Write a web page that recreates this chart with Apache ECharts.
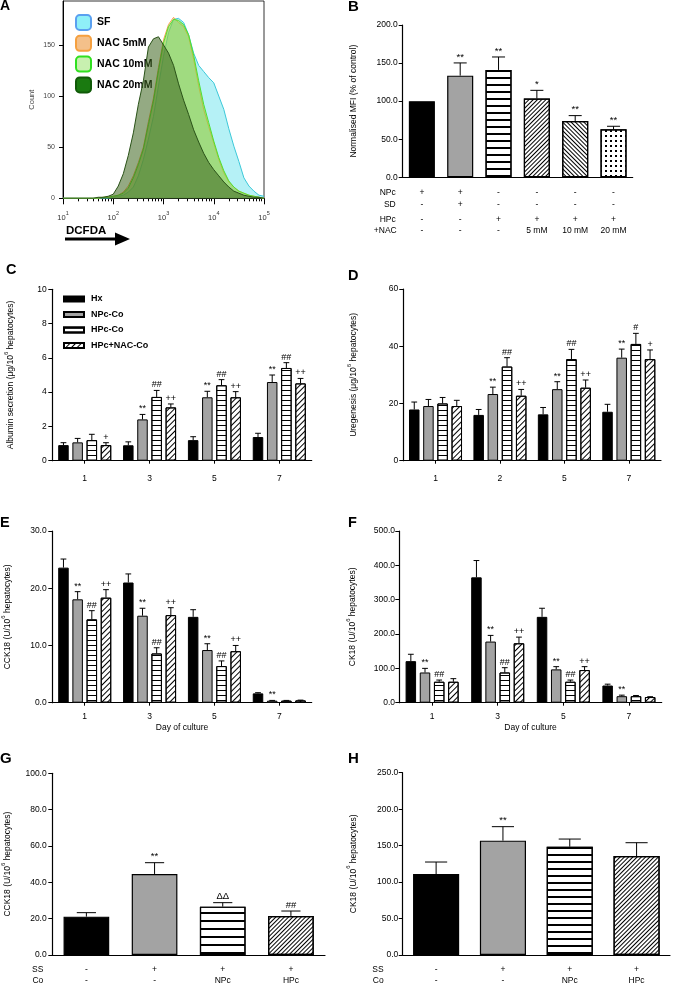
<!DOCTYPE html>
<html><head><meta charset="utf-8">
<script src="https://cdn.jsdelivr.net/npm/echarts@6/dist/echarts.min.js"></script>
<style>html,body{margin:0;padding:0;background:#fff}#c{width:677px;height:985px}</style>
</head><body><div id="c"></div><script>
// ================= DATA =================
// Panel A: flow cytometry histograms, x = log10(DCFDA intensity)
const aLogX  = [1.0,1.1,1.2,1.3,1.4,1.5,1.6,1.7,1.8,1.9,2.0,2.1,2.2,2.3,2.4,2.5,2.6,2.7,2.8,2.9,3.0,3.1,3.2,3.3,3.4,3.5,3.6,3.7,3.8,3.9,4.0,4.1,4.2,4.3,4.4,4.5,4.6,4.7,4.8,4.9,5.0];
const aSF    = [0,0,0,0,0,0,0,0,0,0, 1,2,3,6,11,22,38,58,80,110, 139,162,175,176,172,160,142,130,124,118, 113,100,87,68,51,36,20,12,7,3,2];
const aNAC5  = [0,0,0,0,0,0,0,0,1,1, 2,3,6,12,22,35,50,75,98,128, 155,170,177,172,168,158,136,110,87,70, 54,38,25,16,11,7,5,3,2,1,0];
const aNAC10 = [0,0,0,0,0,0,0,0,1,1, 2,3,5,10,20,33,48,72,95,125, 152,168,175,174,170,160,140,115,92,74, 56,40,27,17,11,7,5,3,2,1,0];
const aNAC20 = [0,0,0,0,0,0,0,1,1,2, 4,12,24,42,64,92,115,148,156,158, 150,142,130,112,96,82,67,55,44,35, 28,22,16,11,7,5,3,2,1,1,0];
const aNames = ['SF','NAC 5mM','NAC 10mM','NAC 20mM'];
const aYTicks = [0,50,100,150];

// Panel B
const bMean = [100, 133.5, 141, 103.5, 74, 63];
const bErr  = [100, 150.2, 158, 114.2, 81, 67];
const bSig  = ['', '**', '**', '*', '**', '**'];
const bRowNPc = ['+','+','-','-','-','-'];
const bRowSD  = ['-','+','-','-','-','-'];
const bRowHPc = ['-','-','+','+','+','+'];
const bRowNAC = ['-','-','-','5 mM','10 mM','20 mM'];

// Grouped panels C–F
const groupNames = ['Hx','NPc-Co','HPc-Co','HPc+NAC-Co'];
const cDays = ['1','3','5','7'];
const cHx  = [0.91,0.90,1.20,1.38], cHxE  = [1.05,1.10,1.40,1.60];
const cNPc = [1.07,2.41,3.70,4.59], cNPcE = [1.30,2.70,4.05,5.00];
const cHPc = [1.20,3.72,4.40,5.41], cHPcE = [1.54,4.10,4.73,5.72];
const cNAC = [0.91,3.11,3.70,4.51], cNACE = [1.05,3.31,4.03,4.80];
const cSig = [['','','',''],['','**','**','**'],['','##','##','##'],['+','++','++','++']];

const dDays = ['1','2','5','7'];
const dHx  = [17.9,16.0,16.2,17.1], dHxE  = [20.5,17.9,18.6,19.7];
const dNPc = [19.1,23.3,25.0,36.0], dNPcE = [21.4,25.7,27.6,39.0];
const dHPc = [20.0,32.9,35.5,40.8], dHPcE = [22.1,36.0,38.9,44.5];
const dNAC = [19.1,22.7,25.5,35.5], dNACE = [21.1,24.9,28.2,38.7];
const dSig = [['','','',''],['','**','**','**'],['','##','##','#'],['','++','++','+']];

const eDays = ['1','3','5','7'];
const eHx  = [23.6,21.0,15.0,1.63], eHxE  = [25.1,22.5,16.25,1.75];
const eNPc = [18.06,15.2,9.2,0.35], eNPcE = [19.4,16.5,10.3,0.4];
const eHPc = [14.56,8.6,6.4,0.35],  eHPcE = [16.08,9.6,7.3,0.4];
const eNAC = [18.35,15.3,9.0,0.4],  eNACE = [19.75,16.6,10.0,0.45];
const eSig = [['','','',''],['**','**','**','**'],['##','##','##',''],['++','++','++','']];

const fDays = ['1','3','5','7'];
const fHx  = [121,365,250,50],   fHxE  = [141,414,275,54];
const fNPc = [88,178,97,19],     fNPcE = [100,196,105,22];
const fHPc = [61,88,61,19],      fHPcE = [66,102,66,21];
const fNAC = [61,173,95,16.5],   fNACE = [70,191,105,17.5];
const fSig = [['','','',''],['**','**','**','**'],['##','##','##',''],['','++','++','']];

// Panel G, H
const gMean = [21.1, 44.6, 26.6, 21.5], gErr = [23.3, 50.8, 28.8, 24.2], gSig = ['', '**', 'ΔΔ', '##'];
const hMean = [111, 156.8, 148.5, 135.7], hErr = [127.5, 176, 159, 154], hSig = ['', '**', '', ''];
const ghRowSS = ['-','+','+','+'];
const ghRowCo = ['-','-','NPc','HPc'];

// ================= STYLE / BUILD =================
const FF = "'Liberation Sans', Arial, Helvetica, sans-serif";
function hLines(gap, th){ return {symbol:'rect', symbolSize:1, color:'#000', dashArrayX:[1,0], dashArrayY:[th||1.1, gap], rotation:0}; }
function diag(gap, rot, th){ return {symbol:'rect', symbolSize:1, color:'#000', dashArrayX:[1,0], dashArrayY:[th||1, gap], rotation:rot}; }
const UP = -Math.PI/4, DOWN = Math.PI/4;

const grids = [
  {left:63, top:1, width:201, height:197.3, show:true, borderColor:'#000', borderWidth:0.8},
  {left:402.7, top:25, width:230, height:152.3},
  {left:52.3, top:289.3, width:259.4, height:171.4},
  {left:403.3, top:289, width:257.7, height:171.7},
  {left:52.3, top:531, width:259.4, height:171.7},
  {left:399.3, top:531, width:262.4, height:171.7},
  {left:52.3, top:773.3, width:272.7, height:181.7},
  {left:402.7, top:772.7, width:267.3, height:182.3}
].map(g => Object.assign({outerBoundsMode:'none', containLabel:false}, g));

const axLine = {show:true, lineStyle:{color:'#000', width:1.2}};
const lbl = (o) => Object.assign({color:'#000', fontSize:8.5, fontFamily:FF}, o||{});
const supRich = {
  t:{fontSize:8.5, fontFamily:FF, color:'#000', lineHeight:12, verticalAlign:'bottom'},
  s:{fontSize:6, fontFamily:FF, color:'#000', lineHeight:12, verticalAlign:'top'}
};
function yAx(grid, min, max, interval, dec, name, nameGap, margin){
  return {gridIndex:grid, type:'value', min, max, interval, axisLine:axLine,
    axisTick:{show:true, length:4, lineStyle:{color:'#000', width:1}},
    splitLine:{show:false},
    axisLabel:lbl({margin:margin, formatter:v => v.toFixed(dec)}),
    name, nameLocation:'middle', nameGap, nameTextStyle:{fontSize:8.5, fontFamily:FF, color:'#000', rich:supRich}};
}
function catAx(grid, data, opts){
  return Object.assign({gridIndex:grid, type:'category', data, position:'bottom', axisLine:axLine,
    axisTick:{show:false}, splitLine:{show:false}, axisLabel:lbl({interval:0})}, opts||{});
}
function tableAx(grid, data, offset, name, nameGap){
  return {gridIndex:grid, type:'category', data, min:0, max:data.length-1, position:'bottom', offset,
    axisLine:{show:false}, axisTick:{show:false}, splitLine:{show:false},
    axisLabel:lbl({margin:0, verticalAlign:'middle', interval:0}),
    name, nameLocation:'start', nameGap,
    nameTextStyle:{fontSize:8.5, fontFamily:FF, color:'#000', align:'right', verticalAlign:'middle'}};
}

function errSeries(xi, yi, vals, errs, sigs, offFn, capFn, fs){
  return {type:'custom', xAxisIndex:xi, yAxisIndex:yi, silent:true, z:5,
    data: vals.map((v,k)=>[k, v, errs[k]]),
    encode:{x:0, y:[1,2]},
    renderItem:(params, api)=>{
      const k=api.value(0), m=api.value(1), e=api.value(2);
      const band=api.size([1,0])[0];
      const p0=api.coord([k,m]), p1=api.coord([k,e]);
      const x=p0[0]+offFn(band), cap=capFn(band);
      const ch=[];
      if (e>m){
        ch.push({type:'line', shape:{x1:x,y1:p0[1],x2:x,y2:p1[1]}, style:{stroke:'#000', lineWidth:1}});
        ch.push({type:'line', shape:{x1:x-cap/2,y1:p1[1],x2:x+cap/2,y2:p1[1]}, style:{stroke:'#000', lineWidth:1}});
      }
      const s=sigs[params.dataIndex];
      if (s) ch.push({type:'text', style:{x:x, y:p1[1]-1, text:s, align:'center', verticalAlign:'bottom', fontSize:fs||9, fontFamily:FF, fill:'#000'}});
      return {type:'group', children:ch};
    }};
}

const series = [];
// ---- Panel A ----
const aLine = ['#3cc8d8','#f5a050','#4fe030','#2a5218'];
const aFill = ['rgba(90,225,235,0.45)','rgba(250,165,80,0.30)','rgba(120,220,60,0.50)','rgba(60,100,30,0.55)'];
[aSF, aNAC5, aNAC10, aNAC20].forEach((arr, i) => {
  series.push({type:'line', name:aNames[i], xAxisIndex:0, yAxisIndex:0, showSymbol:false, silent:true,
    data: aLogX.map((x,k)=>[x, arr[k]]), lineStyle:{color:aLine[i], width:1}, itemStyle:{color:aLine[i]},
    areaStyle:{color:aFill[i], opacity:1}, z:2+i});
});

// ---- Panel B ----
const bStyles = [
  {color:'#000'},
  {color:'#a3a3a3'},
  {color:'#fff', decal:hLines(4.5, 1.2)},
  {color:'#fff', decal:diag(1.9, UP, 1)},
  {color:'#fff', decal:diag(1.9, DOWN, 1)},
  {color:'#fff', decal:{symbol:'rect', symbolSize:1, color:'#000', dashArrayX:[1.2,2.6], dashArrayY:[1.2,2.6], rotation:0}}
];
series.push({type:'bar', name:'B', xAxisIndex:2, yAxisIndex:1, barWidth:'68%',
  data: bMean.map((v,i)=>({value:v, itemStyle:Object.assign({borderColor:'#000', borderWidth:1.2}, bStyles[i])}))});
series.push(errSeries(2, 1, bMean, bErr, bSig, ()=>0, b=>b*0.68*0.5, 9.5));

// ---- Grouped panels ----
const bw = 10.5, step = bw*1.35;
function groupPanel(xi, yi, vals, errs, sigs, dec){
  const colors = ['#000','#a3a3a3','#fff','#fff'];
  const decals = [null, null, dec.h, dec.d];
  for (let i=0;i<4;i++){
    const st = {color:colors[i], borderColor:'#000', borderWidth:1};
    if (decals[i]) st.decal = decals[i];
    series.push({type:'bar', name:groupNames[i], xAxisIndex:xi, yAxisIndex:yi, barWidth:bw, barGap:'35%', data:vals[i], itemStyle:st});
  }
  for (let i=0;i<4;i++){
    const off=(i-1.5)*step;
    series.push(errSeries(xi, yi, vals[i], errs[i], sigs[i], ()=>off, ()=>bw*0.55, 9));
  }
}
const gdec = {h:hLines(3.6, 1), d:diag(2.2, UP, 1)};
groupPanel(7, 2, [cHx,cNPc,cHPc,cNAC], [cHxE,cNPcE,cHPcE,cNACE], cSig, gdec);
groupPanel(8, 3, [dHx,dNPc,dHPc,dNAC], [dHxE,dNPcE,dHPcE,dNACE], dSig, gdec);
groupPanel(9, 4, [eHx,eNPc,eHPc,eNAC], [eHxE,eNPcE,eHPcE,eNACE], eSig, gdec);
groupPanel(10, 5, [fHx,fNPc,fHPc,fNAC], [fHxE,fNPcE,fHPcE,fNACE], fSig, gdec);

// ---- Panel G, H ----
function ghStyles(hg){ return [
  {color:'#000'}, {color:'#a3a3a3'}, {color:'#fff', decal:hLines(hg, 1.2)}, {color:'#fff', decal:diag(1.5, UP, 1)}]; }
const gSt = ghStyles(5.8), hSt = ghStyles(4.8);
series.push({type:'bar', name:'G', xAxisIndex:11, yAxisIndex:6, barWidth:'67%',
  data: gMean.map((v,i)=>({value:v, itemStyle:Object.assign({borderColor:'#000', borderWidth:1.2}, gSt[i])}))});
series.push(errSeries(11, 6, gMean, gErr, gSig, ()=>0, b=>b*0.67*0.42, 9.5));
series.push({type:'bar', name:'H', xAxisIndex:14, yAxisIndex:7, barWidth:'69%',
  data: hMean.map((v,i)=>({value:v, itemStyle:Object.assign({borderColor:'#000', borderWidth:1.2}, hSt[i])}))});
series.push(errSeries(14, 7, hMean, hErr, hSig, ()=>0, b=>b*0.69*0.48, 9.5));

// ---- Axes ----
const aMinor = [];
for (let d=1; d<5; d++) for (let k=2; k<10; k++) aMinor.push(d + Math.log10(k));
const xAxes = [
  {gridIndex:0, type:'value', min:1, max:5, interval:1, position:'bottom', axisLine:{show:true, lineStyle:{color:'#000', width:1}},
   axisTick:{show:true, length:6, lineStyle:{color:'#000'}}, splitLine:{show:false},
   axisLabel:{margin:12, formatter:v=>'{b|10}{s|'+v+'}', rich:{
     b:{fontSize:7.5, fontFamily:FF, color:'#333', lineHeight:12, verticalAlign:'bottom'},
     s:{fontSize:5.5, fontFamily:FF, color:'#333', lineHeight:12, verticalAlign:'top'}}}},
  {gridIndex:0, type:'value', min:1, max:5, position:'bottom', axisLine:{show:false}, splitLine:{show:false},
   axisLabel:{show:false}, axisTick:{show:true, length:3, customValues:aMinor, lineStyle:{color:'#000'}}},
  catAx(1, bRowNPc.map((_,i)=>String(i)), {axisLabel:{show:false}}),
  tableAx(1, bRowNPc, 15.7, 'NPc', 7),
  tableAx(1, bRowSD, 27.7, 'SD', 7),
  tableAx(1, bRowHPc, 42, 'HPc', 7),
  tableAx(1, bRowNAC, 53.4, '+NAC', 6),
  catAx(2, cDays, {axisTick:{show:true, alignWithLabel:true, length:3, lineStyle:{color:'#000'}}, axisLabel:lbl({margin:13, interval:0})}),
  catAx(3, dDays, {axisTick:{show:true, alignWithLabel:true, length:3, lineStyle:{color:'#000'}}, axisLabel:lbl({margin:13, interval:0})}),
  catAx(4, eDays, {axisTick:{show:true, alignWithLabel:true, length:3, lineStyle:{color:'#000'}}, axisLabel:lbl({margin:9, interval:0}),
    name:'Day of culture', nameLocation:'middle', nameGap:20, nameTextStyle:{fontSize:8.5, fontFamily:FF, color:'#000'}}),
  catAx(5, fDays, {axisTick:{show:true, alignWithLabel:true, length:3, lineStyle:{color:'#000'}}, axisLabel:lbl({margin:9, interval:0}),
    name:'Day of culture', nameLocation:'middle', nameGap:20, nameTextStyle:{fontSize:8.5, fontFamily:FF, color:'#000'}}),
  catAx(6, ghRowSS.map((_,i)=>String(i)), {axisLabel:{show:false}}),
  tableAx(6, ghRowSS, 14.3, 'SS', 9),
  tableAx(6, ghRowCo, 25.7, 'Co', 9),
  catAx(7, ghRowSS.map((_,i)=>String(i)), {axisLabel:{show:false}}),
  tableAx(7, ghRowSS, 14.3, 'SS', 19),
  tableAx(7, ghRowCo, 25.7, 'Co', 19)
];
const yAxes = [
  {gridIndex:0, type:'value', min:0, max:193, interval:50, axisLine:{show:true, lineStyle:{color:'#000', width:1}},
   axisTick:{show:true, length:4, customValues:aYTicks, lineStyle:{color:'#000'}}, splitLine:{show:false},
   axisLabel:{margin:8, fontSize:7, fontFamily:FF, color:'#444', customValues:aYTicks},
   name:'Count', nameLocation:'middle', nameGap:27, nameTextStyle:{fontSize:7.5, fontFamily:FF, color:'#444'}},
  yAx(1, 0, 200, 50, 1, '{t|Normalised MFI (% of control)}', 45, 5),
  yAx(2, 0, 10, 2, 0, '{t|Albumin secretion (μg/10}{s|6}{t| hepatocytes)}', 37, 5.6),
  yAx(3, 0, 60, 20, 0, '{t|Uregenesis (μg/10}{s|6}{t| hepatocytes)}', 45, 5),
  yAx(4, 0, 30, 10, 1, '{t|CCK18 (U/10}{s|6}{t| hepatocytes)}', 40, 5.6),
  yAx(5, 0, 500, 100, 1, '{t|CK18 (U/10}{s|6}{t| hepatocytes)}', 42, 4.3),
  yAx(6, 0, 100, 20, 1, '{t|CCK18 (U/10}{s|6}{t| hepatocytes)}', 40, 5.6),
  yAx(7, 0, 250, 50, 1, '{t|CK18 (U/10}{s|6}{t| hepatocytes)}', 45, 4.4)
];

// ---- Legends ----
const legends = [
  {left:70, top:9, orient:'vertical', itemWidth:15, itemHeight:15, itemGap:3.8, selectedMode:false,
   textStyle:{fontSize:10.5, fontWeight:'bold', fontFamily:FF, color:'#000', padding:[0,0,0,1]},
   data:[
     {name:'SF', icon:'roundRect', itemStyle:{color:'#8ff0f8', borderColor:'#5aa0f0', borderWidth:2}},
     {name:'NAC 5mM', icon:'roundRect', itemStyle:{color:'#f4c08a', borderColor:'#f5a040', borderWidth:2}},
     {name:'NAC 10mM', icon:'roundRect', itemStyle:{color:'#c8f0b0', borderColor:'#30e020', borderWidth:2}},
     {name:'NAC 20mM', icon:'roundRect', itemStyle:{color:'#1a7a10', borderColor:'#105a08', borderWidth:2}}
   ]},
  {left:58, top:288.5, orient:'vertical', itemWidth:20, itemHeight:5, itemGap:4.5, selectedMode:false, icon:'rect',
   textStyle:{fontSize:9, fontWeight:'bold', fontFamily:FF, color:'#000', lineHeight:11, padding:[0,0,0,2]},
   data:groupNames}
];

// ---- Panel letters, DCFDA arrow ----
const letters = [['A',0,7.7,14],['B',348,8.8,15],['C',6,271.3,14.5],['D',348,277.5,14.5],['E',0,523.8,14.5],['F',348,524,14.5],['G',0,760.8,15],['H',348,760.8,15]];
const graphic = letters.map(l => ({type:'text', left:l[1], top:l[2]-l[3]*0.6, style:{text:l[0], font:'bold '+l[3]+'px '+FF, fill:'#000'}}));
graphic.push({type:'text', left:66, top:224.5, style:{text:'DCFDA', font:'bold 11.5px '+FF, fill:'#000'}});
graphic.push({type:'polygon', shape:{points:[[65,237.5],[115,237.5],[115,232.5],[130,239],[115,245.5],[115,240.5],[65,240.5]]}, style:{fill:'#000'}});

const chart = echarts.init(document.getElementById('c'), null, {renderer:'canvas', width:677, height:985});
chart.setOption({
  animation:false, backgroundColor:'#fff',
  textStyle:{fontFamily:FF},
  grid:grids, xAxis:xAxes, yAxis:yAxes, legend:legends, series, graphic
});
</script></body></html>
